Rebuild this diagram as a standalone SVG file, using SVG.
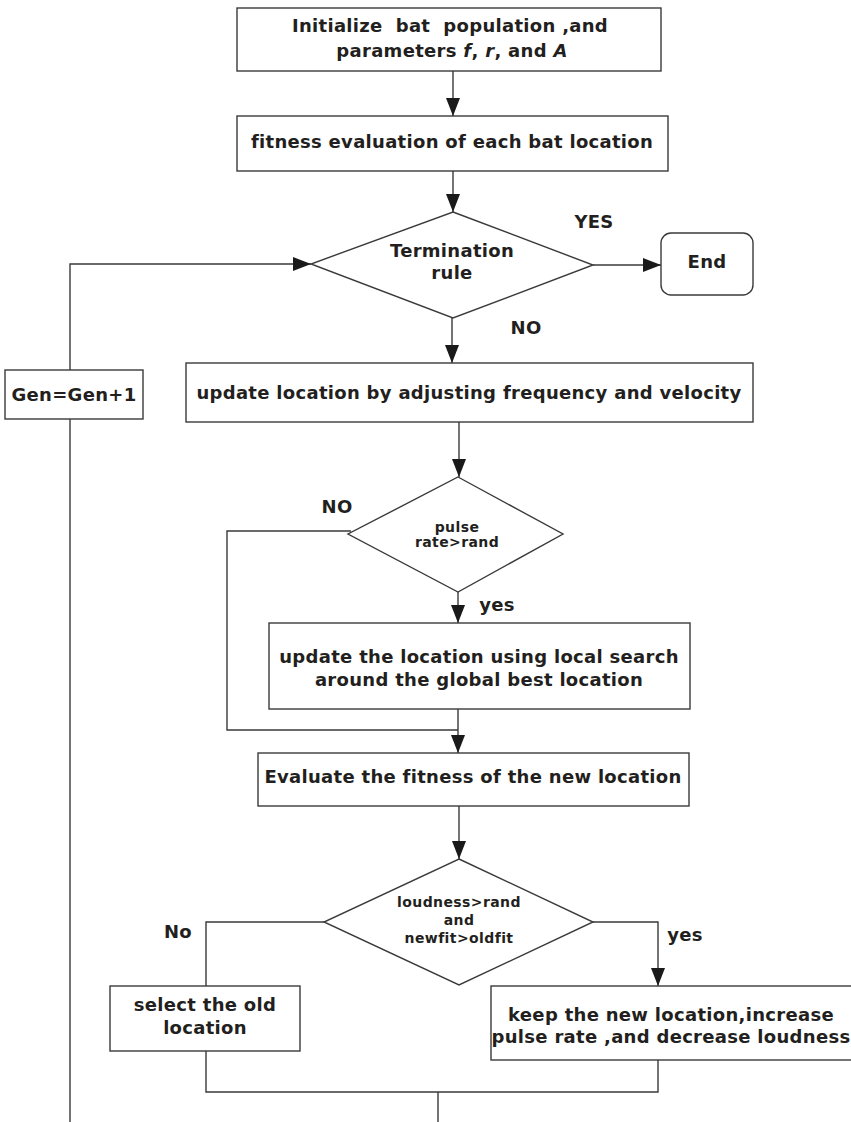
<svg xmlns="http://www.w3.org/2000/svg" width="851" height="1122" viewBox="0 0 851 1122">
<style>
.box{fill:#fff;stroke:#3a3a3a;stroke-width:1.4}
.ln{fill:none;stroke:#3a3a3a;stroke-width:1.4}
.t{font-family:"DejaVu Sans",Verdana,sans-serif;font-weight:bold;font-size:18px;letter-spacing:0.3px;fill:#231f20;text-anchor:middle;white-space:pre}
.s{font-size:14px;letter-spacing:0.4px}
</style>
<defs>
<marker id="ah" markerWidth="18" markerHeight="14" refX="18" refY="7" orient="auto" markerUnits="userSpaceOnUse" viewBox="0 0 18 14">
<path d="M0,0 L18,7 L0,14 Z" fill="#1a1a1a"/>
</marker>
</defs>
<g id="connectors">
<line class="ln" x1="453" y1="71" x2="453" y2="116" marker-end="url(#ah)"/>
<line class="ln" x1="453" y1="171" x2="453" y2="212" marker-end="url(#ah)"/>
<line class="ln" x1="593" y1="265" x2="661" y2="265" marker-end="url(#ah)"/>
<line class="ln" x1="452" y1="318" x2="452" y2="363" marker-end="url(#ah)"/>
<polyline class="ln" points="70,370 70,264 311,264" marker-end="url(#ah)"/>
<line class="ln" x1="70" y1="419" x2="70" y2="1122"/>
<line class="ln" x1="459" y1="422" x2="459" y2="477" marker-end="url(#ah)"/>
<line class="ln" x1="458" y1="592" x2="458" y2="623" marker-end="url(#ah)"/>
<polyline class="ln" points="351,531 227,531 227,730 458,730"/>
<line class="ln" x1="458" y1="709" x2="458" y2="753" marker-end="url(#ah)"/>
<line class="ln" x1="459" y1="806" x2="459" y2="859" marker-end="url(#ah)"/>
<polyline class="ln" points="324,922 206,922 206,986"/>
<polyline class="ln" points="593,922 658,922 658,986" marker-end="url(#ah)"/>
<polyline class="ln" points="206,1051 206,1092 658,1092 658,1060"/>
<line class="ln" x1="438" y1="1092" x2="438" y2="1122"/>
</g>
<g id="init">
<rect class="box" x="237" y="8" width="424" height="63"/>
<text class="t" x="450" y="32" xml:space="preserve">Initialize  bat  population ,and</text>
<text class="t" x="452" y="57">parameters <tspan font-style="italic">f</tspan>, <tspan font-style="italic">r</tspan>, and <tspan font-style="italic">A</tspan></text>
</g>
<g id="fitness">
<rect class="box" x="237" y="116" width="431" height="55"/>
<text class="t" x="452" y="148">fitness evaluation of each bat location</text>
</g>
<g id="termination">
<polygon class="box" points="453,212 593,265 453,318 311,264"/>
<text class="t" x="452" y="257">Termination</text>
<text class="t" x="452" y="279">rule</text>
<text class="t" x="594" y="228">YES</text>
<text class="t" x="526" y="334">NO</text>
</g>
<g id="end">
<rect class="box" x="661" y="233" width="92" height="62" rx="10"/>
<text class="t" x="707" y="268">End</text>
</g>
<g id="gen">
<rect class="box" x="5" y="370" width="138" height="49"/>
<text class="t" x="74" y="401">Gen=Gen+1</text>
</g>
<g id="update">
<rect class="box" x="186" y="363" width="567" height="59"/>
<text class="t" x="469" y="399">update location by adjusting frequency and velocity</text>
</g>
<g id="pulse">
<polygon class="box" points="458,477 563,534 458,592 348,534"/>
<text class="t s" x="457" y="532">pulse</text>
<text class="t s" x="457" y="547">rate&gt;rand</text>
<text class="t" x="337" y="513">NO</text>
<text class="t" x="497" y="611">yes</text>
</g>
<g id="local">
<rect class="box" x="269" y="623" width="421" height="86"/>
<text class="t" x="479" y="663">update the location using local search</text>
<text class="t" x="479" y="686">around the global best location</text>
</g>
<g id="evaluate">
<rect class="box" x="258" y="753" width="431" height="53"/>
<text class="t" x="473" y="783">Evaluate the fitness of the new location</text>
</g>
<g id="loudness">
<polygon class="box" points="459,859 593,922 459,985 324,922"/>
<text class="t s" x="459" y="907">loudness&gt;rand</text>
<text class="t s" x="459" y="925">and</text>
<text class="t s" x="459" y="943">newfit&gt;oldfit</text>
<text class="t" x="178" y="938">No</text>
<text class="t" x="685" y="941">yes</text>
</g>
<g id="old">
<rect class="box" x="110" y="986" width="190" height="65"/>
<text class="t" x="205" y="1011">select the old</text>
<text class="t" x="205" y="1034">location</text>
</g>
<g id="keep">
<rect class="box" x="491" y="986" width="370" height="74"/>
<text class="t" x="671" y="1021">keep the new location,increase</text>
<text class="t" x="671" y="1043">pulse rate ,and decrease loudness</text>
</g>
</svg>
